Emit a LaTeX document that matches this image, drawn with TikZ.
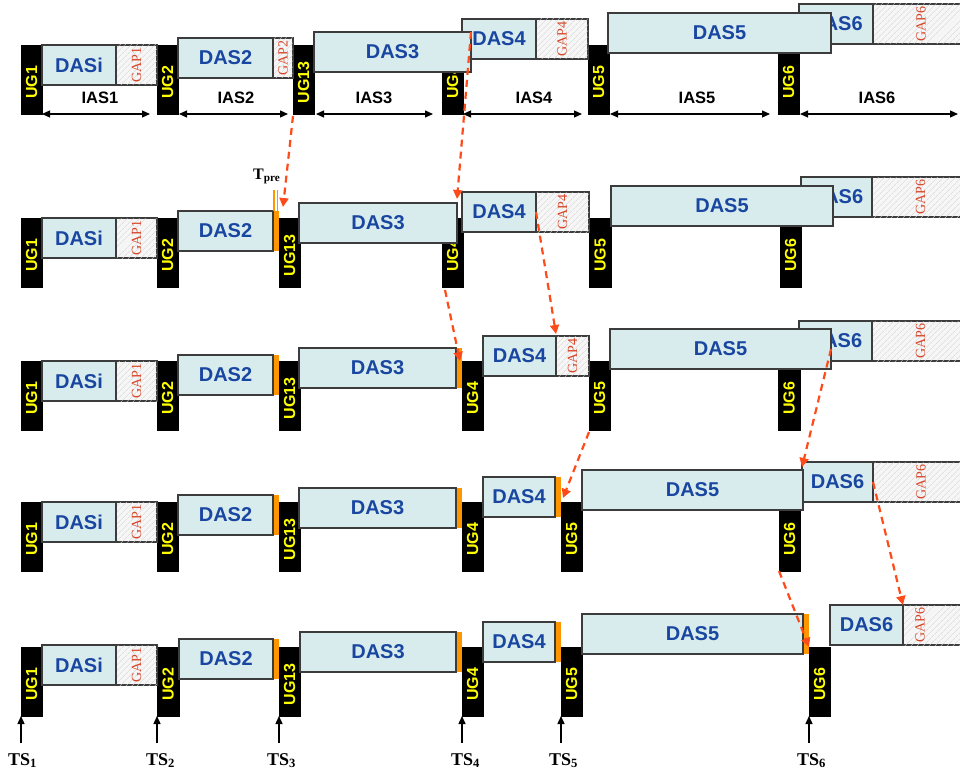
\documentclass[tikz,border=0pt]{standalone}
\usepackage{fontspec}
\setmainfont{Liberation Sans}
\newfontfamily\serifx{Liberation Serif}
\usetikzlibrary{arrows.meta,patterns,patterns.meta}
\definecolor{dasfill}{RGB}{216,236,238}
\definecolor{boxline}{RGB}{60,60,60}
\definecolor{dasblue}{RGB}{25,70,160}
\definecolor{ugyellow}{RGB}{255,255,0}
\definecolor{gapfill}{RGB}{246,246,246}
\definecolor{hatch}{RGB}{212,212,212}
\definecolor{gapred}{RGB}{215,70,40}
\definecolor{preorange}{RGB}{255,150,0}
\definecolor{arrowred}{RGB}{255,75,25}
\tikzset{
 ugbox/.style={fill=black, draw=black, line width=0.4pt, inner sep=0pt, outer sep=0pt},
 ugtext/.style={rotate=90, text=ugyellow, font=\bfseries\fontsize{16}{16}\selectfont, inner sep=0pt},
 dasbox/.style={fill=dasfill, draw=boxline, line width=1.2pt, inner sep=0pt, outer sep=0pt, text=dasblue, font=\bfseries\fontsize{20}{20}\selectfont},
 gapbox/.style={fill=gapfill, draw=boxline, line width=1.2pt, inner sep=0pt, outer sep=0pt, postaction={pattern={Lines[angle=45,distance=4pt,line width=0.6pt]}, pattern color=hatch}},
 gaptext/.style={rotate=90, text=gapred, font=\serifx\fontsize{14}{14}\selectfont, inner sep=0pt},
 prebar/.style={fill=preorange, draw=none, inner sep=0pt, outer sep=0pt},
 preline/.style={draw=preorange, line width=1.3pt},
 shiftarrow/.style={draw=arrowred, line width=2.2pt, dash pattern=on 7pt off 5pt, -{Triangle[length=9pt,width=9pt]}},
 iasarrow/.style={draw=black, line width=1.1pt, {Triangle[length=8pt,width=7pt]}-{Triangle[length=8pt,width=7pt]}},
 iaslabel/.style={font=\bfseries\fontsize{16.5}{16.5}\selectfont, inner sep=0pt},
 tsarrow/.style={draw=black, line width=1.4pt, -{Triangle[length=8pt,width=7pt]}},
 tslabel/.style={font=\serifx\bfseries\fontsize{18}{18}\selectfont, inner sep=0pt},
}
\newcommand\ug[5]{%
 \node[ugbox, minimum width=#3-#2, minimum height=69, anchor=north west] (#1) at (#2,#4) {};
 \node[ugtext] (#1t) at ([yshift=-3pt]#1.center) {#5};}
\newcommand\das[5]{%
 \node[dasbox, minimum width=#3-#2, minimum height=40, anchor=north west] (#1) at (#2,#4) {#5};}
\newcommand\gapb[4]{%
 \node[gapbox, minimum width=#3-#2, minimum height=40, anchor=north west] (#1) at (#2,#4) {};}
\newcommand\gap[5]{%
 \gapb{#1}{#2}{#3}{#4}
 \node[gaptext] (#1t) at (#1.center) {#5};}
\newcommand\pre[3]{%
 \node[prebar, minimum width=6, minimum height=40, anchor=north west] (#1) at (#2,#3) {};}
\begin{document}
\begin{tikzpicture}[x=1pt,y=-1pt]
\useasboundingbox (0,0) rectangle (960,773);
% ---------------- row 1
\ug{u1a}{21}{42}{45}{UG1}
\ug{u2a}{157}{178}{45}{UG2}
\ug{u13a}{293}{314}{45}{UG13}
\ug{u4a}{442}{463}{45}{UG4}
\ug{u5a}{588}{609}{45}{UG5}
\ug{u6a}{778}{799}{45}{UG6}
\gap{g6a}{873}{969}{4}{GAP6}
\das{d6a}{799}{873}{4}{DAS6}
\das{d5a}{608}{831}{13}{DAS5}
\gap{g4a}{536}{588}{19}{GAP4}
\das{d4a}{462}{536}{19}{DAS4}
\das{d3a}{314}{471}{32}{DAS3}
\gap{g2a}{273}{293}{38}{GAP2}
\das{d2a}{178}{273}{38}{DAS2}
\gap{g1a}{116}{157}{45}{GAP1}
\das{dia}{42}{116}{45}{DASi}
\draw[iasarrow] (u1a.south east) -- ([xshift=-7pt]u2a.south west);
\draw[iasarrow] ([xshift=1pt]u2a.south east) -- ([xshift=-5pt]u13a.south west);
\draw[iasarrow] ([xshift=2pt]u13a.south east) -- ([xshift=-9pt]u4a.south west);
\draw[iasarrow] (u4a.south east) -- ([xshift=-6pt]u5a.south west);
\draw[iasarrow] ([xshift=1pt]u5a.south east) -- ([xshift=-8pt]u6a.south west);
\coordinate (ias6end) at (958,114);
\draw[iasarrow] ([xshift=1pt]u6a.south east) -- (ias6end);
\node[iaslabel] (ias1) at (100,98) {IAS1};
\node[iaslabel] (ias2) at (236,98) {IAS2};
\node[iaslabel] (ias3) at (374,98) {IAS3};
\node[iaslabel] (ias4) at (534,98) {IAS4};
\node[iaslabel] (ias5) at (697,98) {IAS5};
\node[iaslabel] (ias6) at (877,98) {IAS6};
% ---------------- row 2
\ug{u1b}{21}{42}{218}{UG1}
\ug{u2b}{157}{178}{218}{UG2}
\ug{u13b}{279}{300}{218}{UG13}
\ug{u4b}{442}{463}{218}{UG4}
\ug{u5b}{589}{611}{218}{UG5}
\ug{u6b}{780}{801}{218}{UG6}
\gap{g6b}{872}{969}{177}{GAP6}
\das{d6b}{801}{872}{177}{DAS6}
\das{d5b}{611}{833}{186}{DAS5}
\gap{g4b}{536}{589}{192}{GAP4}
\das{d4b}{462}{536}{192}{DAS4}
\das{d3b}{299}{457}{203}{DAS3}
\pre{p2b}{273}{211}
\das{d2b}{178}{273}{211}{DAS2}
\gap{g1b}{116}{157}{218}{GAP1}
\das{dib}{42}{116}{218}{DASi}
\draw[preline] ([xshift=1pt]p2b.north west) -- ++(0,-21);
\draw[preline] ([xshift=-1.5pt]p2b.north east) -- ++(0,-21);
\node[tslabel, font=\serifx\bfseries\fontsize{16}{16}\selectfont, anchor=base west] (tpre) at (253,179) {T\textsubscript{pre}};
% ---------------- row 3
\ug{u1c}{21}{42}{361}{UG1}
\ug{u2c}{157}{178}{361}{UG2}
\ug{u13c}{279}{300}{361}{UG13}
\ug{u4c}{462}{483}{361}{UG4}
\ug{u5c}{589}{610}{361}{UG5}
\ug{u6c}{778}{800}{361}{UG6}
\gap{g6c}{872}{969}{321}{GAP6}
\das{d6c}{799}{872}{321}{DAS6}
\das{d5c}{610}{831}{329}{DAS5}
\gap{g4c}{556}{589}{336}{GAP4}
\das{d4c}{483}{556}{336}{DAS4}
\pre{p3c}{456}{348}
\das{d3c}{299}{456}{348}{DAS3}
\pre{p2c}{273}{355}
\das{d2c}{178}{273}{355}{DAS2}
\gap{g1c}{116}{157}{361}{GAP1}
\das{dic}{42}{116}{361}{DASi}
% ---------------- row 4
\ug{u1d}{21}{42}{502}{UG1}
\ug{u2d}{157}{178}{502}{UG2}
\ug{u13d}{279}{300}{502}{UG13}
\ug{u4d}{462}{483}{502}{UG4}
\ug{u5d}{561}{582}{502}{UG5}
\ug{u6d}{779}{800}{502}{UG6}
\gap{g6d}{873}{969}{462}{GAP6}
\das{d6d}{802}{873}{462}{DAS6}
\das{d5d}{582}{803}{470}{DAS5}
\pre{p4d}{555}{477}
\das{d4d}{483}{555}{477}{DAS4}
\pre{p3d}{456}{488}
\das{d3d}{299}{456}{488}{DAS3}
\pre{p2d}{273}{495}
\das{d2d}{178}{273}{495}{DAS2}
\gap{g1d}{116}{157}{502}{GAP1}
\das{did}{42}{116}{502}{DASi}
% ---------------- row 5
\ug{u1e}{21}{42}{647}{UG1}
\ug{u2e}{157}{179}{647}{UG2}
\ug{u13e}{279}{300}{647}{UG13}
\ug{u4e}{462}{483}{647}{UG4}
\ug{u5e}{561}{582}{647}{UG5}
\ug{u6e}{809}{830}{647}{UG6}
\gapb{g6e}{903}{969}{605}
\node[gaptext] (g6et) at (920,625) {GAP6};
\das{d6e}{830}{903}{605}{DAS6}
\pre{p5e}{803}{614}
\das{d5e}{582}{803}{614}{DAS5}
\pre{p4e}{555}{622}
\das{d4e}{483}{555}{622}{DAS4}
\pre{p3e}{456}{632}
\das{d3e}{300}{456}{632}{DAS3}
\pre{p2e}{273}{639}
\das{d2e}{179}{273}{639}{DAS2}
\gap{g1e}{116}{157}{645}{GAP1}
\das{die}{42}{116}{645}{DASi}
% ---------------- TS markers
\coordinate (ts1s) at (21,743);
\coordinate (ts2s) at (157,743);
\coordinate (ts3s) at (279,743);
\coordinate (ts4s) at (462,743);
\coordinate (ts5s) at (561,743);
\coordinate (ts6s) at (809,743);
\draw[tsarrow] (ts1s) -- (u1e.south west);
\draw[tsarrow] (ts2s) -- (u2e.south west);
\draw[tsarrow] (ts3s) -- (u13e.south west);
\draw[tsarrow] (ts4s) -- (u4e.south west);
\draw[tsarrow] (ts5s) -- (u5e.south west);
\draw[tsarrow] (ts6s) -- (u6e.south west);
\node[tslabel, anchor=base west] (ts1) at (8,765) {TS\textsubscript{1}};
\node[tslabel, anchor=base west] (ts2) at (146,765) {TS\textsubscript{2}};
\node[tslabel, anchor=base west] (ts3) at (267,765) {TS\textsubscript{3}};
\node[tslabel, anchor=base west] (ts4) at (451,765) {TS\textsubscript{4}};
\node[tslabel, anchor=base west] (ts5) at (549,765) {TS\textsubscript{5}};
\node[tslabel, anchor=base west] (ts6) at (797,765) {TS\textsubscript{6}};
% ---------------- shift arrows
\draw[shiftarrow] ([yshift=-2pt]u13a.south west) -- ([shift={(4,-11)}]u13b.north west);
\draw[shiftarrow] (d3a.north east) -- ([yshift=4pt]d3b.north east);
\draw[shiftarrow] (d4b.east) -- ([yshift=2pt]g4c.north west);
\draw[shiftarrow] ([xshift=3pt,yshift=-3pt]u4b.south west) -- ([xshift=-2pt]u4c.north west);
\draw[shiftarrow] ([yshift=-2pt]u5c.south west) -- ([xshift=2pt,yshift=4pt]u5d.north west);
\draw[shiftarrow] (d5c.east) -- ([yshift=-5pt]d6d.north west);
\draw[shiftarrow] (d6d.east) -- (g6e.north west);
\draw[shiftarrow] (u6d.south west) -- (u6e.north west);
\end{tikzpicture}
\end{document}
